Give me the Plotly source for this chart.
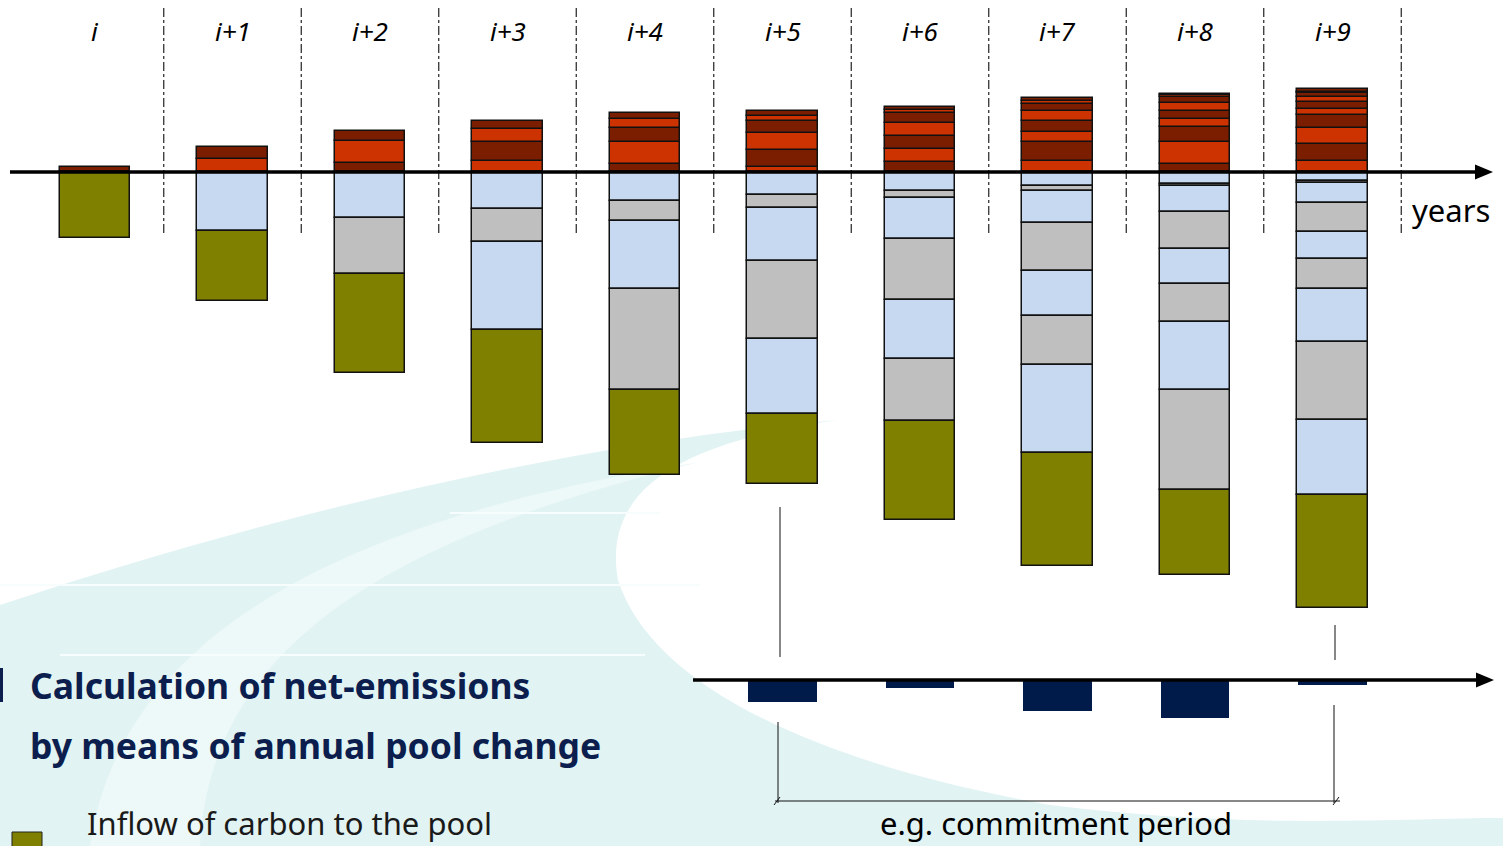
import plotly.graph_objects as go

W, H = 1503, 846

years = ["i", "i+1", "i+2", "i+3", "i+4", "i+5", "i+6", "i+7", "i+8", "i+9"]

# Outflow of carbon per year, layers listed from the axis upward
outflow = [
    [5.0],
    [12.7, 12.6],
    [9.3, 21.4, 10.3],
    [10.7, 19.3, 13.0, 8.3],
    [7.7, 22.0, 14.6, 8.4, 6.0],
    [5.5, 16.5, 17.5, 12.0, 5.0, 4.5],
    [9.7, 13.0, 13.3, 13.3, 9.4, 3.3, 3.3],
    [10.7, 19.3, 10.3, 10.4, 10.6, 6.7, 3.3, 2.4],
    [8.0, 21.7, 15.3, 8.3, 8.0, 7.7, 5.6, 2.0, 1.7],
    [11.0, 17.3, 16.0, 12.7, 6.3, 6.4, 5.0, 4.0, 1.6, 2.4],
]

# Carbon remaining in the pool per year, layers listed from the axis downward
pool = [
    [],
    [58.7],
    [45.7, 56.0],
    [36.7, 33.3, 88.0],
    [29.0, 20.3, 68.0, 100.4],
    [22.7, 13.0, 53.0, 78.0, 75.0],
    [18.7, 7.3, 41.3, 60.7, 58.7, 62.3],
    [14.3, 5.0, 32.0, 47.4, 45.6, 48.7, 88.3],
    [11.7, 2.0, 26.0, 37.0, 35.3, 37.7, 68.3, 100.3],
    [9.3, 2.0, 20.0, 28.4, 27.7, 29.4, 53.3, 77.7, 75.0],
]

# Inflow of carbon to the pool per year
inflow = [66.0, 70.3, 99.3, 113.3, 85.0, 70.6, 99.0, 112.7, 85.0, 113.3]

# Net emissions over the commitment period
net_years = ["i+5", "i+6", "i+7", "i+8", "i+9"]
net_change = [22.0, 8.0, 31.0, 38.0, 5.0]

DARK_RED = "#7B1E00"
ORANGE = "#CC3300"
BLUE = "#C6D9F1"
GRAY = "#BFBFBF"
OLIVE = "#808000"
NAVY = "#001A4A"
TITLE = "#0B1E4E"
TEAL = "#E2F3F3"
TEAL_LIGHT = "#EDF8F8"
FONT = "Noto Sans"

idx = {y: k for k, y in enumerate(years)}
BAR_W = 0.516
line_style = dict(color="#111111", width=1.5)

fig = go.Figure()

# Outflow layers (stacked above the axis)
n_out = max(len(s) for s in outflow)
for j in range(n_out):
    xs, ys, cs = [], [], []
    for k, segs in enumerate(outflow):
        if j < len(segs):
            xs.append(k)
            ys.append(segs[j])
            # the topmost layer is dark red, colours alternate downward
            cs.append(DARK_RED if (len(segs) - 1 - j) % 2 == 0 else ORANGE)
    fig.add_trace(go.Bar(x=xs, y=ys, width=BAR_W, marker=dict(color=cs, line=line_style),
                         showlegend=False, hoverinfo="skip"))

# Pool layers (stacked below the axis)
n_pool = max(len(s) for s in pool)
for j in range(n_pool):
    xs, ys, cs = [], [], []
    for k, segs in enumerate(pool):
        if j < len(segs):
            xs.append(k)
            ys.append(-segs[j])
            cs.append(BLUE if j % 2 == 0 else GRAY)
    fig.add_trace(go.Bar(x=xs, y=ys, width=BAR_W, marker=dict(color=cs, line=line_style),
                         showlegend=False, hoverinfo="skip"))

# Inflow at the bottom of each stack
fig.add_trace(go.Bar(x=list(range(len(years))), y=[-v for v in inflow], width=BAR_W,
                     marker=dict(color=OLIVE, line=line_style), showlegend=False, hoverinfo="skip"))

# Net emissions on the lower axis
fig.add_trace(go.Bar(x=[idx[y] for y in net_years], y=[-v for v in net_change], width=0.5,
                     marker=dict(color=NAVY, line=dict(width=0)), yaxis="y2",
                     showlegend=False, hoverinfo="skip"))


def px(x):
    return x / W


def py(y):
    return 1 - y / H


def svg_path(cmds):
    """Build an SVG path from (command, [(x, y), ...]) pairs given in page pixels."""
    out = []
    for cmd, pts in cmds:
        coords = ", ".join("{:.5f} {:.5f}".format(px(x), py(y)) for x, y in pts)
        out.append("{} {}".format(cmd, coords))
    return " ".join(out) + " Z"


shapes = []

# background swoosh
shapes.append(dict(type="path", xref="paper", yref="paper", layer="below", line=dict(width=0),
                   fillcolor=TEAL,
                   path=svg_path([
                       ("M", [(0, 605)]),
                       ("C", [(300, 505), (600, 440), (838, 420)]),
                       ("C", [(700, 440), (600, 480), (618, 580)]),
                       ("C", [(650, 680), (800, 760), (1050, 805)]),
                       ("C", [(1250, 830), (1400, 818), (1503, 818)]),
                       ("L", [(1503, 846)]),
                       ("L", [(0, 846)]),
                   ])))
# lighter inner arc of the swoosh
shapes.append(dict(type="path", xref="paper", yref="paper", layer="below", line=dict(width=0),
                   fillcolor=TEAL_LIGHT,
                   path=svg_path([
                       ("M", [(90, 846)]),
                       ("C", [(120, 640), (330, 520), (700, 462)]),
                       ("C", [(380, 540), (210, 650), (200, 846)]),
                   ])))
# faint white highlight lines
for (xa, xb, yy) in [(60, 645, 655), (450, 660, 513), (0, 700, 585)]:
    shapes.append(dict(type="line", xref="paper", yref="paper", layer="below",
                       x0=px(xa), x1=px(xb), y0=py(yy), y1=py(yy),
                       line=dict(color="#F7FCFC", width=2)))

# year dividers
for k in range(len(years)):
    shapes.append(dict(type="line", xref="x", yref="y", x0=k + 0.5, x1=k + 0.5, y0=-61, y1=164,
                       line=dict(color="#222222", width=1.2, dash="dashdot")))

# main time axis with arrow
shapes.append(dict(type="line", xref="paper", yref="y", x0=px(10), x1=px(1480), y0=0, y1=0,
                   line=dict(color="black", width=3.5)))
shapes.append(dict(type="path", xref="paper", yref="paper", fillcolor="black", line=dict(width=0),
                   path=svg_path([("M", [(1493, 172)]), ("L", [(1475, 164.5)]),
                                  ("L", [(1475, 179.5)])])))
# net emission axis with arrow
shapes.append(dict(type="line", xref="paper", yref="y2", x0=px(693), x1=px(1480), y0=0, y1=0,
                   line=dict(color="black", width=3.5)))
shapes.append(dict(type="path", xref="paper", yref="paper", fillcolor="black", line=dict(width=0),
                   path=svg_path([("M", [(1494, 680)]), ("L", [(1476, 672.5)]),
                                  ("L", [(1476, 687.5)])])))

# commitment period markers
for (x, ya, yb) in [(780, 507, 657), (778, 722, 803), (1335, 625, 660), (1334, 705, 803)]:
    shapes.append(dict(type="line", xref="paper", yref="paper", x0=px(x), x1=px(x),
                       y0=py(ya), y1=py(yb), line=dict(color="#111111", width=1)))
shapes.append(dict(type="line", xref="paper", yref="paper", x0=px(775), x1=px(1340),
                   y0=py(801), y1=py(801), line=dict(color="#111111", width=1)))
for x in (777, 1336):
    shapes.append(dict(type="line", xref="paper", yref="paper", x0=px(x - 3), x1=px(x + 3),
                       y0=py(805), y1=py(797), line=dict(color="#111111", width=1)))

# title accent and legend swatch
shapes.append(dict(type="rect", xref="paper", yref="paper", x0=0, x1=px(3), y0=py(702), y1=py(668),
                   fillcolor=TITLE, line=dict(width=0)))
shapes.append(dict(type="rect", xref="paper", yref="paper", x0=px(12), x1=px(42), y0=py(862),
                   y1=py(832), fillcolor=OLIVE, line=dict(color="#222222", width=1)))

annotations = []
for k, label in enumerate(years):
    annotations.append(dict(x=k, y=141, xref="x", yref="y", text="<i>{}</i>".format(label),
                            xanchor="center", yanchor="middle", showarrow=False,
                            font=dict(family=FONT, size=26, color="black")))
annotations.append(dict(x=px(1451), y=py(210), xref="paper", yref="paper", text="years",
                        xanchor="center", yanchor="middle", showarrow=False,
                        font=dict(family=FONT, size=31, color="black")))
annotations.append(dict(x=px(1056), y=py(846), xref="paper", yref="paper",
                        text="e.g. commitment period", xanchor="center", yanchor="bottom",
                        showarrow=False, font=dict(family=FONT, size=31, color="black")))
annotations.append(dict(x=px(28), y=py(685), xref="paper", yref="paper", xanchor="left",
                        yanchor="middle", text="<b>Calculation of net-emissions</b>", showarrow=False,
                        font=dict(family=FONT, size=35.5, color=TITLE)))
annotations.append(dict(x=px(28), y=py(745), xref="paper", yref="paper", xanchor="left",
                        yanchor="middle", text="<b>by means of annual pool change</b>",
                        showarrow=False, font=dict(family=FONT, size=35.5, color=TITLE)))
annotations.append(dict(x=px(85), y=py(846), xref="paper", yref="paper", xanchor="left",
                        yanchor="bottom", text="Inflow of carbon to the pool", showarrow=False,
                        font=dict(family=FONT, size=31, color="#1A1A1A")))

xr0 = -95 / 137.5
xr1 = (W - 95) / 137.5
fig.update_layout(
    width=W, height=H,
    margin=dict(l=0, r=0, t=0, b=0),
    paper_bgcolor="white", plot_bgcolor="rgba(0,0,0,0)",
    barmode="relative", bargap=0,
    xaxis=dict(range=[xr0, xr1], visible=False, fixedrange=True),
    yaxis=dict(range=[-(H - 172), 172], visible=False, fixedrange=True),
    yaxis2=dict(range=[-(H - 680), 680], visible=False, overlaying="y", fixedrange=True),
    shapes=shapes, annotations=annotations,
)

fig.write_html("out.html", config={"displayModeBar": False})
